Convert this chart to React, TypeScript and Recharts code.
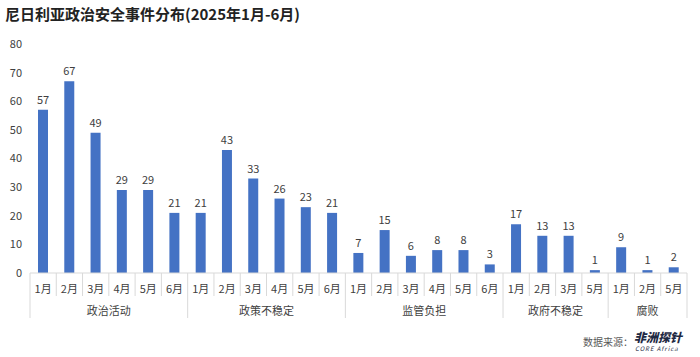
import React from "react"
import { Bar, BarChart, XAxis, YAxis, LabelList } from "recharts"

const categories = ["政治活动", "政策不稳定", "监管负担", "政府不稳定", "腐败"]
const months = [
  ["1月", "2月", "3月", "4月", "5月", "6月"],
  ["1月", "2月", "3月", "4月", "5月", "6月"],
  ["1月", "2月", "3月", "4月", "5月", "6月"],
  ["1月", "2月", "3月", "5月"],
  ["1月", "2月", "5月"],
]
const values = [
  [57, 67, 49, 29, 29, 21],
  [21, 43, 33, 26, 23, 21],
  [7, 15, 6, 8, 8, 3],
  [17, 13, 13, 1],
  [9, 1, 2],
]
const yTicks = [0, 10, 20, 30, 40, 50, 60, 70, 80]

const data = categories.flatMap((cat, ci) =>
  months[ci].map((m, mi) => ({
    id: `${cat}-${m}`,
    month: m,
    category: cat,
    first: mi === 0,
    groupSize: months[ci].length,
    count: values[ci][mi],
  }))
)

const W = 700
const H = 357
const margin = { top: 44, right: 13, left: 0, bottom: 34 }
const yAxisWidth = 30
const band = (W - margin.left - margin.right - yAxisWidth) / data.length
const font = "'Noto Sans CJK SC', 'Noto Sans', sans-serif"
const sepColor = "#d9d9d9"

// month label + separators, and the category label under the first month of each group
function MonthTick(props: any) {
  const { x, y, index } = props
  const row = data[index]
  const left = x - band / 2
  const top = y - 8
  const isLast = index === data.length - 1
  return (
    <g>
      <text x={x} y={y + 12} textAnchor="middle" fontSize={11} fill="#404040" fontFamily={font}>
        {row.month}
      </text>
      <line x1={left} x2={left} y1={top} y2={row.first ? y + 37 : y + 15} stroke={sepColor} />
      {isLast && <line x1={x + band / 2} x2={x + band / 2} y1={top} y2={y + 37} stroke={sepColor} />}
      {row.first && (
        <text
          x={left + (row.groupSize * band) / 2}
          y={y + 34}
          textAnchor="middle"
          fontSize={11}
          fill="#404040"
          fontFamily={font}
        >
          {row.category}
        </text>
      )}
    </g>
  )
}

export default function App() {
  return (
    <div style={{ position: "absolute", left: 0, top: 0, width: W, height: H, background: "#fff", fontFamily: font }}>
      <div
        style={{
          position: "absolute",
          left: 5,
          top: 3,
          fontSize: 15,
          fontWeight: 700,
          color: "#222",
          whiteSpace: "nowrap",
        }}
      >
        尼日利亚政治安全事件分布(2025年1月-6月)
      </div>
      <BarChart width={W} height={H} data={data} margin={margin}>
        <XAxis
          dataKey="id"
          interval={0}
          height={50}
          tickLine={false}
          axisLine={{ stroke: sepColor }}
          tick={<MonthTick />}
        />
        <YAxis
          width={yAxisWidth}
          domain={[0, 80]}
          ticks={yTicks}
          axisLine={false}
          tickLine={false}
          tick={{ fontSize: 11, fill: "#404040", fontFamily: font }}
        />
        <Bar dataKey="count" fill="#4472C4" barSize={10} isAnimationActive={false}>
          <LabelList dataKey="count" position="top" offset={6} fontSize={11} fill="#404040" fontFamily={font} />
        </Bar>
      </BarChart>
      <div style={{ position: "absolute", left: 583, top: 334, fontSize: 10, color: "#595959", whiteSpace: "nowrap" }}>
        数据来源：
      </div>
      <div
        style={{
          position: "absolute",
          left: 634,
          top: 331,
          fontSize: 12,
          lineHeight: "12px",
          fontWeight: 900,
          fontStyle: "italic",
          color: "#1f2a44",
          whiteSpace: "nowrap",
          letterSpacing: 0,
        }}
      >
        非洲探针
      </div>
      <div
        style={{
          position: "absolute",
          left: 635,
          top: 345,
          fontSize: 6,
          lineHeight: "7px",
          fontStyle: "italic",
          color: "#1f2a44",
          whiteSpace: "nowrap",
          letterSpacing: 1,
        }}
      >
        CORE Africa
      </div>
    </div>
  )
}
